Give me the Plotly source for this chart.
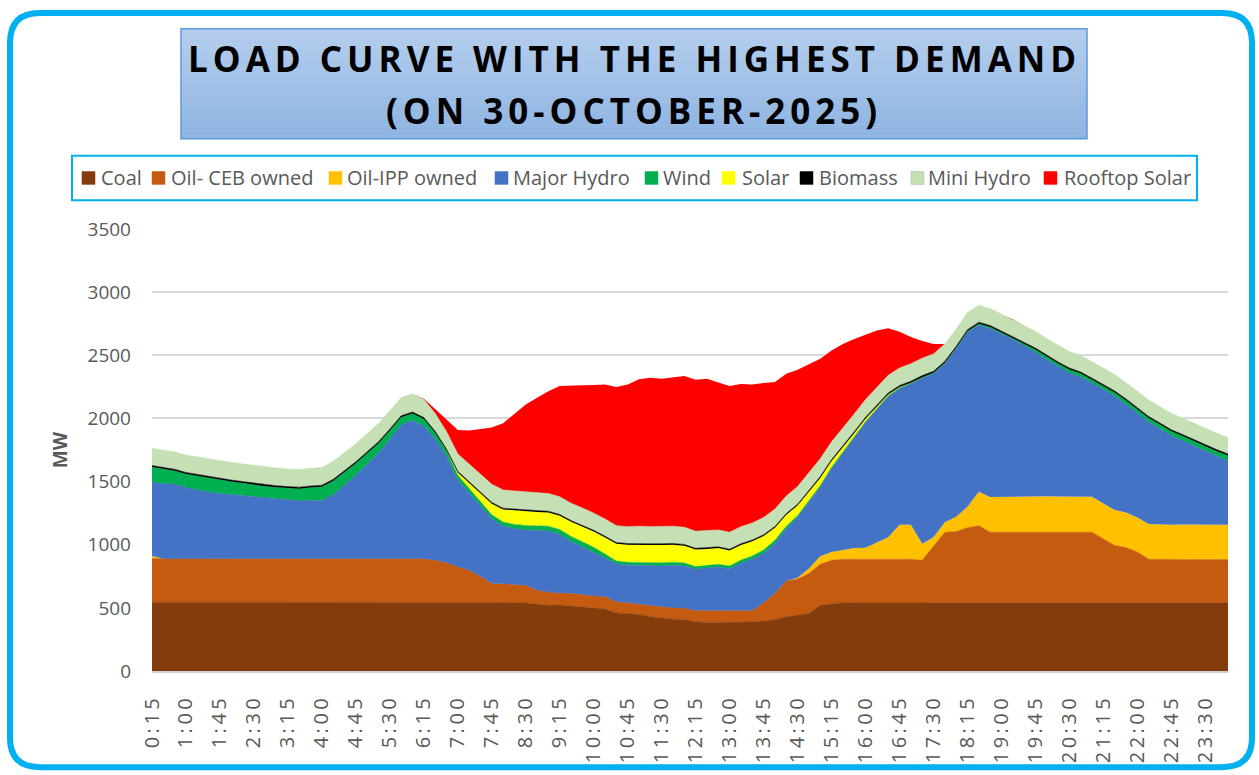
import plotly.graph_objects as go

# ---------------- data ----------------
times = ["0:15", "0:30", "0:45", "1:00", "1:15", "1:30", "1:45", "2:00", "2:15", "2:30", "2:45", "3:00",
         "3:15", "3:30", "3:45", "4:00", "4:15", "4:30", "4:45", "5:00", "5:15", "5:30", "5:45", "6:00",
         "6:15", "6:30", "6:45", "7:00", "7:15", "7:30", "7:45", "8:00", "8:15", "8:30", "8:45", "9:00",
         "9:15", "9:30", "9:45", "10:00", "10:15", "10:30", "10:45", "11:00", "11:15", "11:30", "11:45", "12:00",
         "12:15", "12:30", "12:45", "13:00", "13:15", "13:30", "13:45", "14:00", "14:15", "14:30", "14:45", "15:00",
         "15:15", "15:30", "15:45", "16:00", "16:15", "16:30", "16:45", "17:00", "17:15", "17:30", "17:45", "18:00",
         "18:15", "18:30", "18:45", "19:00", "19:15", "19:30", "19:45", "20:00", "20:15", "20:30", "20:45", "21:00",
         "21:15", "21:30", "21:45", "22:00", "22:15", "22:30", "22:45", "23:00", "23:15", "23:30", "23:45", "24:00"]

coal = [545, 545, 544, 544, 543, 543, 543, 542, 542, 542, 541, 541, 541, 541, 541, 541, 542, 542, 542, 542,
        543, 543, 543, 543, 543, 542, 542, 542, 542, 541, 541, 541, 541,
        538, 528, 520, 522, 515, 508, 500, 490, 460, 455, 448, 430, 418, 410, 408, 390, 385, 385, 385, 385,
        388, 395, 405, 430, 440, 455, 520, 530, 541,
        541, 540, 540, 541, 540, 540, 539, 540, 540, 541, 540, 539, 540, 541, 540, 540, 539, 540, 541, 540,
        540, 539, 540, 540, 541, 540, 539, 540, 540, 541, 540, 539, 540, 540]

oil_ceb = [345, 344, 345, 345, 346, 346, 346, 347, 347, 347, 348, 348, 348, 348, 348, 348, 347, 347, 347, 347,
           346, 346, 346, 346, 346, 335, 318, 283, 256, 209, 152, 149, 147, 142, 112, 103, 96, 100, 97, 93,
           99, 89, 86, 82, 86, 90, 90, 89, 89, 94, 94, 94, 94, 91, 145, 210, 284, 288, 317, 325,
           346, 343, 344, 345, 345, 344, 345, 345, 337, 451, 559, 563, 595, 612, 559, 558, 559, 559, 560, 559,
           558, 559, 559, 560, 506, 454, 436, 402, 345, 342, 342, 341, 342, 343, 342, 342]

oil_ipp = [20, 0, 0, 0, 0, 0, 0, 0, 0, 0, 0, 0, 0, 0, 0, 0, 0, 0, 0, 0,
           0, 0, 0, 0, 0, 0, 0, 0, 0, 0, 0, 0, 0, 0, 0, 0, 0, 0, 0, 0,
           0, 0, 0, 0, 0, 0, 0, 0, 0, 0, 0, 0, 0, 0, 0, 0, 0, 10, 39, 63,
           66, 76, 88, 91, 135, 174, 274, 274, 131, 69, 78, 118, 165, 269, 279, 281, 280, 282, 283, 284,
           283, 282, 281, 280, 280, 280, 279, 274, 280, 277, 277, 278, 277, 276, 277, 277]

major_hydro = [585, 594, 591, 563, 545, 526, 516, 507, 499, 491, 483, 474, 464, 458, 462, 462, 505, 582, 661, 748,
               837, 947, 1060, 1095, 1054, 961, 840, 688, 612, 551, 512, 456, 439, 437, 472, 486, 463, 411, 376, 346,
               307, 300, 297, 306, 314, 324, 337, 335, 326, 335, 344, 330, 375, 406, 391, 395, 413, 478, 525, 550,
               663, 764, 872, 992, 1050, 1113, 1076, 1113, 1311, 1294, 1256, 1329, 1381, 1318, 1333, 1286, 1246, 1192, 1143, 1081,
               1027, 978, 949, 902, 903, 903, 856, 827, 807, 759, 704, 663, 623, 582, 540, 503]

wind = [120, 118, 105, 108, 110, 112, 108, 104, 100, 95, 90, 92, 95, 97, 102, 108, 112, 105, 95, 88,
        78, 68, 60, 55, 52, 48, 42, 38, 35, 33, 32, 33, 34, 35, 36, 38, 39, 40, 42, 40,
        30, 22, 23, 25, 26, 26, 25, 24, 22, 21, 22, 22, 24, 26, 28, 25, 20, 15, 12, 10,
        9, 8, 8, 8, 8, 8, 8, 8, 8, 8, 8, 8, 10, 12, 13, 14, 15, 17, 20, 24,
        26, 28, 26, 26, 27, 28, 30, 31, 32, 33, 35, 37, 38, 40, 42, 45]

solar = [0, 0, 0, 0, 0, 0, 0, 0, 0, 0, 0, 0, 0, 0, 0, 0, 0, 0, 0, 0,
         0, 0, 0, 0, 0, 0, 5, 20, 45, 70, 88, 100, 110, 115, 112, 108, 110, 115, 120, 125,
         132, 136, 138, 140, 142, 140, 138, 136, 135, 132, 128, 124, 120, 116, 110, 100, 90, 80, 70, 60,
         48, 38, 30, 22, 16, 10, 6, 3, 1, 0, 0, 0, 0, 0, 0, 0, 0, 0, 0, 0,
         0, 0, 0, 0, 0, 0, 0, 0, 0, 0, 0, 0, 0, 0, 0, 0]

biomass = [12, 12, 12, 12, 12, 12, 12, 12, 12, 12, 12, 12, 12, 12, 12, 12, 12, 12, 12, 12,
           12, 12, 12, 12, 12, 12, 10, 10, 10, 10, 10, 10, 10, 10, 10, 10, 10, 10, 10, 10,
           10, 10, 10, 10, 10, 10, 10, 10, 10, 10, 10, 10, 10, 10, 10, 10, 10, 10, 12, 12,
           12, 12, 12, 12, 12, 12, 12, 12, 12, 12, 12, 12, 12, 12, 12, 12, 12, 12, 12, 12,
           12, 12, 12, 12, 12, 12, 12, 12, 12, 12, 12, 12, 12, 12, 12, 12]

mini_hydro = [136, 137, 138, 138, 139, 139, 140, 140, 140, 141, 141, 141, 140, 140, 140, 141, 142, 142, 143, 143,
              144, 144, 144, 144, 143, 142, 140, 138, 140, 142, 143, 144, 144, 143, 142, 140, 139, 138, 137, 136,
              135, 134, 134, 135, 135, 135, 136, 136, 135, 135, 134, 134, 135, 135, 136, 137, 138, 139, 140, 140,
              141, 141, 140, 140, 139, 139, 138, 138, 138, 137, 137, 136, 135, 134, 134, 133, 133, 132, 132, 132,
              132, 131, 131, 131, 131, 130, 130, 130, 130, 130, 130, 130, 130, 130, 130, 130]

rooftop_solar = [0, 0, 0, 0, 0, 0, 0, 0, 0, 0, 0, 0, 0, 0, 0, 0, 0, 0, 0, 0,
                 0, 0, 0, 0, 5, 35, 93, 190, 264, 359, 450, 529, 615, 691, 751, 811, 878, 928, 972, 1015,
                 1065, 1098, 1125, 1164, 1180, 1172, 1182, 1198, 1200, 1203, 1167, 1158, 1130, 1096, 1065, 1007, 969, 925, 860, 792,
                 722, 667, 594, 516, 452, 374, 288, 212, 136, 79, 0, 0, 0, 0, 0, 0, 0, 0, 0, 0,
                 0, 0, 0, 0, 0, 0, 0, 0, 0, 0, 0, 0, 0, 0, 0, 0]

series_names = ["Coal", "Oil- CEB owned", "Oil-IPP owned", "Major Hydro", "Wind", "Solar",
                "Biomass", "Mini Hydro", "Rooftop Solar"]
series_colors = ["#843C0C", "#C55A11", "#FFC000", "#4472C4", "#00B050", "#FFFF00",
                 "#000000", "#C5E0B4", "#FF0000"]
series_values = [coal, oil_ceb, oil_ipp, major_hydro, wind, solar, biomass, mini_hydro, rooftop_solar]
series_edge = [0.6, 0.6, 0, 0.6, 0.5, 0, 0.6, 0.6, 0]

y_ticks = [0, 500, 1000, 1500, 2000, 2500, 3000, 3500]
x_tick_labels = times[::3]

title_line1 = "LOAD CURVE WITH THE HIGHEST DEMAND"
title_line2 = "(ON 30-OCTOBER-2025)"

# ---------------- layout geometry (pixels) ----------------
W, H = 1259, 775
ML, MR, MT, MB = 152, 31, 229, 100
PW, PH = W - ML - MR, H - MT - MB


def px(x):
    return (x - ML) / PW


def py(y):
    return (H - MB - y) / PH


def rounded_rect_path(x0, y0, x1, y1, r):
    p = [
        f"M {px(x0 + r)},{py(y0)}",
        f"L {px(x1 - r)},{py(y0)}",
        f"Q {px(x1)},{py(y0)} {px(x1)},{py(y0 + r)}",
        f"L {px(x1)},{py(y1 - r)}",
        f"Q {px(x1)},{py(y1)} {px(x1 - r)},{py(y1)}",
        f"L {px(x0 + r)},{py(y1)}",
        f"Q {px(x0)},{py(y1)} {px(x0)},{py(y1 - r)}",
        f"L {px(x0)},{py(y0 + r)}",
        f"Q {px(x0)},{py(y0)} {px(x0 + r)},{py(y0)}",
        "Z",
    ]
    return " ".join(p)


fig = go.Figure()
for name, col, vals, lw in zip(series_names, series_colors, series_values, series_edge):
    fig.add_trace(go.Scatter(
        x=times, y=vals, name=name, mode="lines", stackgroup="one",
        line=dict(width=lw, color=col), fillcolor=col, showlegend=False,
    ))

shapes = []
annotations = []

# outer rounded border
shapes.append(dict(type="path", xref="paper", yref="paper",
                   path=rounded_rect_path(10, 11, 1252, 772, 30),
                   line=dict(color="#00B0F0", width=6), fillcolor="rgba(0,0,0,0)", layer="above"))

# title box with vertical gradient
bx0, bx1, by0, by1 = 181, 1087, 27, 138
top_rgb = (180, 205, 237)
bot_rgb = (142, 180, 226)
n_strips = 30
for k in range(n_strips):
    t = k / (n_strips - 1)
    c = tuple(round(top_rgb[j] + (bot_rgb[j] - top_rgb[j]) * t) for j in range(3))
    ya = by0 + (by1 - by0) * k / n_strips
    yb = by0 + (by1 - by0) * (k + 1) / n_strips + 0.6
    shapes.append(dict(type="rect", xref="paper", yref="paper",
                       x0=px(bx0), x1=px(bx1), y0=py(ya), y1=py(min(yb, by1)),
                       line=dict(width=0), fillcolor=f"rgb{c}", layer="below"))
shapes.append(dict(type="rect", xref="paper", yref="paper",
                   x0=px(bx0), x1=px(bx1), y0=py(by0), y1=py(by1),
                   line=dict(color="#5B9BD5", width=1.5), fillcolor="rgba(0,0,0,0)", layer="above"))

for txt, yc in [(title_line1, 57), (title_line2, 109)]:
    annotations.append(dict(
        xref="paper", yref="paper", x=px(634), y=py(yc), xanchor="center", yanchor="middle",
        text=f'<span style="letter-spacing:5px">{txt}</span>', showarrow=False,
        font=dict(family="Open Sans", size=35, color="#000000", weight="bold")))

# legend box
shapes.append(dict(type="rect", xref="paper", yref="paper",
                   x0=px(72), x1=px(1197), y0=py(155), y1=py(200),
                   line=dict(color="#00B0F0", width=2), fillcolor="white", layer="below"))
legend_square_x = [82, 152, 329, 495, 645, 722, 800, 911, 1044]
legend_text_x = [101, 171, 347, 513, 663, 742, 819, 928, 1064]
for name, col, sx, tx in zip(series_names, series_colors, legend_square_x, legend_text_x):
    shapes.append(dict(type="rect", xref="paper", yref="paper",
                       x0=px(sx), x1=px(sx + 13), y0=py(171), y1=py(184),
                       line=dict(width=0.5, color="#A0B890" if name == "Mini Hydro" else col),
                       fillcolor=col, layer="above"))
    annotations.append(dict(
        xref="paper", yref="paper", x=px(tx - 2), y=py(177.5), xanchor="left", yanchor="middle",
        text=name, showarrow=False,
        font=dict(family="Open Sans", size=20, color="#595959")))

fig.update_layout(
    width=W, height=H, autosize=False,
    margin=dict(l=ML, r=MR, t=MT, b=MB, pad=0),
    paper_bgcolor="white", plot_bgcolor="white",
    showlegend=False,
    shapes=shapes, annotations=annotations,
    xaxis=dict(
        type="category", range=[0, len(times) - 1],
        tickmode="array", tickvals=x_tick_labels,
        ticktext=[f'<span style="letter-spacing:3.5px">{t}</span>' for t in x_tick_labels],
        tickangle=-90, ticks="", ticklabelstandoff=14,
        tickfont=dict(family="Open Sans", size=20, color="#595959"),
        showgrid=False, showline=True, linecolor="#D0D0D0", linewidth=1.5,
        zeroline=False, fixedrange=True,
    ),
    yaxis=dict(
        range=[0, 3500], tickmode="array", tickvals=y_ticks,
        ticks="", ticklabelstandoff=20,
        tickfont=dict(family="Open Sans", size=19, color="#595959"),
        showgrid=True, gridcolor="#D9D9D9", gridwidth=1.5,
        zeroline=False, showline=False,
        title=dict(text="<b>MW</b>", standoff=14,
                   font=dict(family="Open Sans", size=19, color="#595959")),
        fixedrange=True,
    ),
)

fig.write_html("out.html", config={"displayModeBar": False},
               post_script="document.body.style.margin='0';document.body.style.overflow='hidden';")
